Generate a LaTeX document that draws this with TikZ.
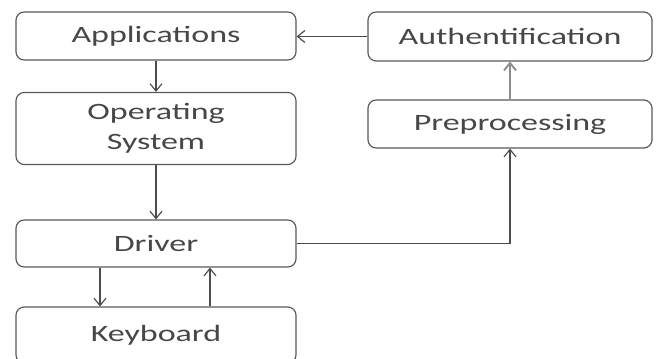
\documentclass[tikz,border=0pt]{standalone}
\usepackage{fontspec}
\newfontfamily\boxfont[FakeStretch=1.45]{Carlito}
\usetikzlibrary{arrows.meta}
\begin{document}
\begin{tikzpicture}[x=0.03cm,y=-0.03cm,
  box/.style={draw=black!65, line width=1pt, rounded corners=7pt, fill=white,
    minimum width=8.4cm, inner sep=0pt, align=center,
    font=\boxfont\fontsize{20}{25.5}\selectfont, text=black!72},
  conn/.style={draw=black!70, line width=1pt,
    -{Straight Barb[length=0.22cm,width=0.36cm]}}]
\useasboundingbox (0,0) rectangle (660,359);
\node[box, minimum height=1.44cm] (app) at (156,36) {Applications};
\node[box, minimum height=2.16cm] (os) at (156,128.5) {Operating\\System};
\node[box, minimum height=1.41cm] (drv) at (156,243.5) {Driver};
\node[box, minimum height=1.68cm] (kbd) at (156,335) {Keyboard};
\node[box, minimum width=8.52cm, minimum height=1.47cm] (auth) at (510,36.5) {Authentification};
\node[box, minimum width=8.52cm, minimum height=1.44cm] (pre) at (510,124) {Preprocessing};
\draw[conn] (app) -- (os);
\draw[conn] (os) -- (drv);
\draw[conn] ([xshift=-1.68cm]drv.south) -- ([xshift=-1.68cm]kbd.north);
\draw[conn] ([xshift=1.62cm]kbd.north) -- ([xshift=1.62cm]drv.south);
\draw[conn] (drv.east) -| (pre.south);
\draw[conn, draw=black!45, line width=1.6pt] (pre) -- (auth);
\draw[conn] (auth.west) -- (auth.west -| app.east);
\end{tikzpicture}
\end{document}
